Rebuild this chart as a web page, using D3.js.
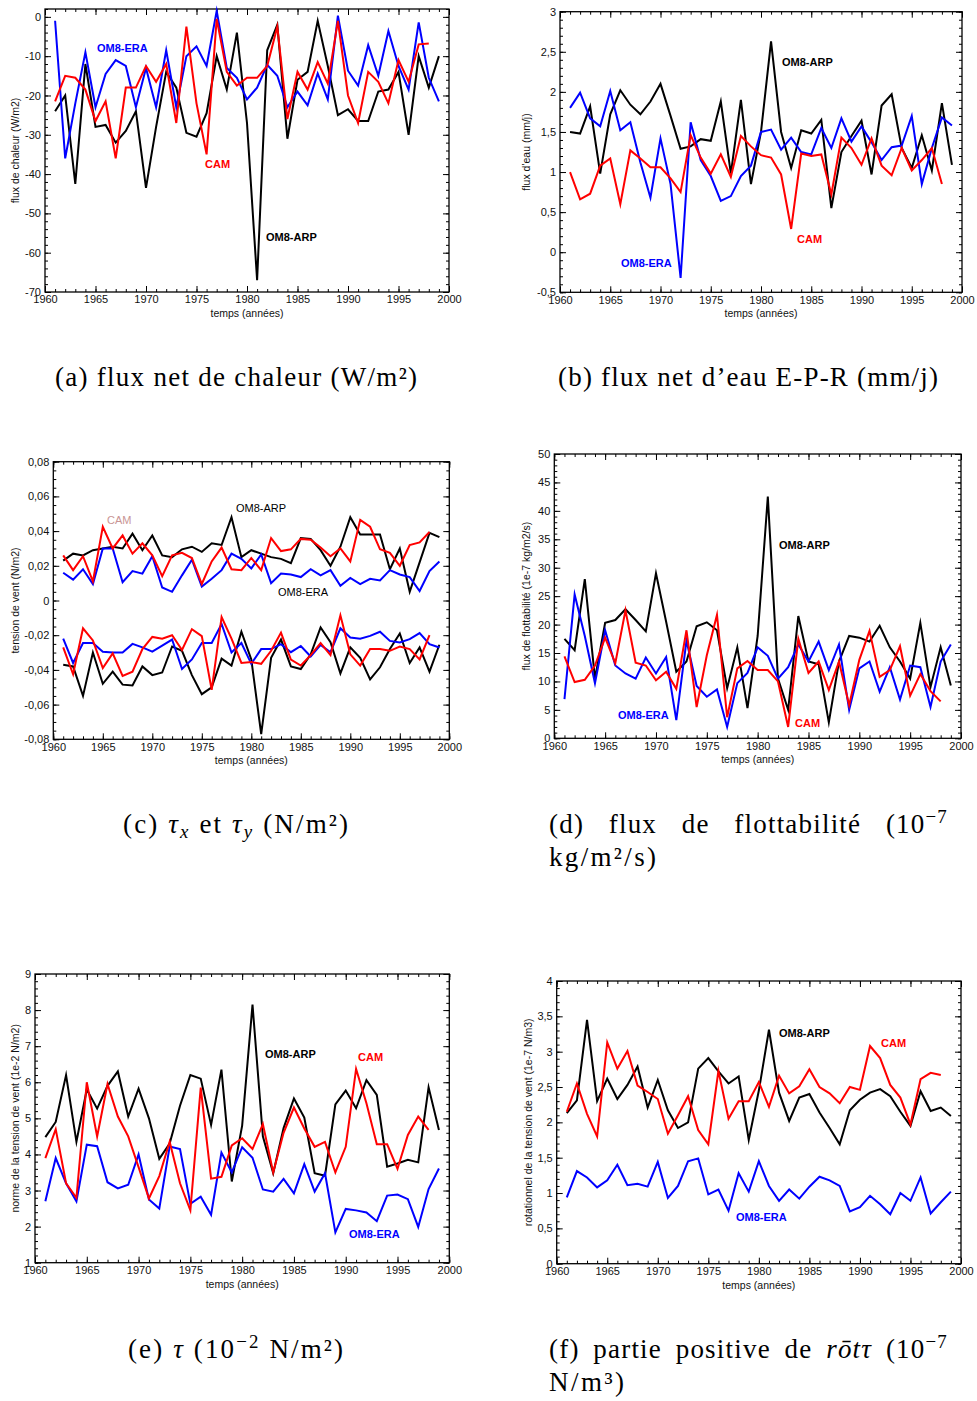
<!DOCTYPE html>
<html><head><meta charset="utf-8">
<script src="https://cdn.jsdelivr.net/npm/d3@7"></script>
<style>body{margin:0;background:#fff}</style>
</head><body><svg id="c" width="977" height="1401"></svg>
<script>
// ---------------- DATA ----------------
const years = d3.range(1961, 2000);     // 1961..1999
const yearsCAM = d3.range(1961, 1999);  // 1961..1998
const xTicks = [1960, 1965, 1970, 1975, 1980, 1985, 1990, 1995, 2000];

// (a) net heat flux (W/m2)
const a_ERA = [-1,-36,-22,-9,-23,-14.5,-11,-12.5,-23,-13, -23,-8.5,-23,-10,-7.5,-12.5,1.5,-13,-15.5,-21, -18,-12.2,-15,-23,-19,-22.5,-14.4,-21,0.3,-13.7, -17.5,-7.2,-15,-3.6,-12.5,-18.5,-1.4,-15.5,-21.5];
const a_CAM = [-21.5,-15,-15.5,-18.5,-26.5,-21.5,-36,-18,-18,-12.5, -16.5,-12,-27,-2.5,-22,-35,-0.5,-14,-17.5,-15.5, -15.5,-12.5,-2.5,-26,-14,-18.5,-11.5,-17,-1,-20, -27,-14,-16.5,-22,-11,-16.5,-7,-6.8];
const a_ARP = [-24,-20,-42.5,-12,-28,-27.5,-32,-29,-24,-43.5, -28,-14,-18,-29.5,-30.5,-24.5,-10,-18.5,-4,-27, -67,-8.5,-2,-31,-16,-14,-1,-12.5,-25,-23.5, -26.5,-26.5,-19,-18.5,-14,-30,-10,-18,-10];
const a_yTicks = [-70,-60,-50,-40,-30,-20,-10,0];

// (b) net water flux E-P-R (mm/j)
const b_ERA = [1.8,1.99,1.67,1.57,2.01,1.52,1.62,1.12,0.68,1.42, 0.85,-0.32,1.62,1.15,0.95,0.64,0.7,0.95,1.08,1.5, 1.53,1.28,1.43,1.25,1.22,1.55,1.3,1.67,1.38,1.57, 1.37,1.15,1.31,1.33,1.7,0.85,1.3,1.68,1.58];
const b_CAM = [1.0,0.66,0.73,1.08,1.17,0.6,1.27,1.17,1.06,1.06, 0.92,0.75,1.46,1.18,0.98,1.22,0.94,1.45,1.32,1.21, 1.18,0.97,0.29,1.23,1.2,1.22,0.72,1.43,1.3,1.09, 1.42,1.08,0.96,1.3,1.02,1.15,1.3,0.85];
const b_ARP = [1.5,1.48,1.82,0.98,1.72,2.02,1.84,1.72,1.88,2.1, 1.7,1.29,1.32,1.41,1.39,1.88,0.98,1.9,0.85,1.5, 2.63,1.5,1.05,1.52,1.48,1.65,0.55,1.25,1.45,1.64, 0.97,1.83,1.97,1.3,1.05,1.46,1.02,1.86,1.09];
const b_yTicks = [-0.5,0,0.5,1,1.5,2,2.5,3];

// (c) tau_x (positive) and tau_y (negative) (N/m2)
const c_ERA_x = [0.016,0.012,0.018,0.0095,0.030,0.030,0.0105,0.017,0.0155,0.0255, 0.0075,0.005,0.0145,0.0235,0.008,0.0125,0.0175,0.027,0.024,0.0185, 0.0265,0.010,0.0155,0.015,0.0135,0.018,0.0145,0.0175,0.0085,0.013, 0.0095,0.0125,0.0115,0.0175,0.015,0.0135,0.0055,0.017,0.0225];
const c_CAM_x = [0.026,0.0175,0.0255,0.011,0.0425,0.030,0.0375,0.027,0.033,0.026, 0.014,0.026,0.0275,0.0245,0.0095,0.0225,0.0305,0.018,0.0175,0.0245, 0.0175,0.036,0.0285,0.0295,0.0355,0.035,0.0305,0.0255,0.030,0.0225, 0.0465,0.0425,0.0295,0.0275,0.02,0.032,0.0335,0.0395];
const c_ARP_x = [0.023,0.027,0.026,0.029,0.030,0.031,0.030,0.0385,0.029,0.0375, 0.026,0.025,0.0295,0.031,0.028,0.033,0.032,0.048,0.025,0.029, 0.027,0.025,0.024,0.0215,0.036,0.0355,0.029,0.020,0.031,0.048, 0.038,0.038,0.038,0.018,0.030,0.005,0.022,0.039,0.0365];
const c_ERA_y = [-0.022,-0.036,-0.0245,-0.0245,-0.0295,-0.030,-0.030,-0.025,-0.027,-0.0295, -0.026,-0.0225,-0.0395,-0.034,-0.0245,-0.0245,-0.0135,-0.030,-0.0245,-0.0365, -0.028,-0.028,-0.0252,-0.0298,-0.0262,-0.0323,-0.0256,-0.0298,-0.016,-0.0213, -0.022,-0.0204,-0.018,-0.0233,-0.0242,-0.0223,-0.0188,-0.0252,-0.0271];
const c_CAM_y = [-0.027,-0.0425,-0.016,-0.023,-0.039,-0.0305,-0.0435,-0.041,-0.028,-0.021, -0.022,-0.020,-0.0285,-0.0165,-0.0205,-0.0515,-0.0095,-0.022,-0.036,-0.0355, -0.0365,-0.029,-0.0185,-0.034,-0.0375,-0.0315,-0.0245,-0.0315,-0.0085,-0.031, -0.0375,-0.028,-0.028,-0.029,-0.0265,-0.028,-0.034,-0.020];
const c_ARP_y = [-0.037,-0.038,-0.055,-0.030,-0.048,-0.041,-0.0485,-0.049,-0.038,-0.043, -0.0415,-0.0265,-0.029,-0.043,-0.054,-0.050,-0.0335,-0.0375,-0.018,-0.034, -0.077,-0.033,-0.0225,-0.038,-0.0395,-0.031,-0.0155,-0.024,-0.042,-0.027, -0.033,-0.0455,-0.0385,-0.028,-0.019,-0.036,-0.027,-0.041,-0.0255];
const c_yTicks = [-0.08,-0.06,-0.04,-0.02,0,0.02,0.04,0.06,0.08];

// (d) buoyancy flux (1e-7 kg/m2/s)
const d_ERA = [6.9,25.3,18,9.7,19,12.8,11.4,10.5,14.2,11.4, 14.3,3.2,17.2,9.2,7.3,8.6,2,9.7,11.5,16, 14.5,10.5,12.5,16.5,13.5,17,12,16.5,5,12.3, 13.5,8.2,12.5,6.8,12.8,12.5,5.5,13.5,16.5];
const d_CAM = [14.4,9.9,10.3,12.8,17.7,13.2,22.5,13.3,12.8,10.2, 11.7,8.7,19,5.5,14.6,21.7,3.7,12.3,13.6,12, 12,10,2,17.5,11.5,13.5,8.5,13.5,5.8,13.8, 18.9,10.8,12,16.2,7.5,11.3,8.3,6.5];
const d_ARP = [17.5,15.5,28,10.5,20.3,20.8,22.7,20.8,18.8,29, 20.5,11.7,13.5,19.7,20.4,19,8.8,16,5.3,18, 42.5,10.5,5,21.5,13.5,13,2.8,13.5,18,17.7, 17,19.8,16,13.5,10.5,20.3,9,16,9.3];
const d_yTicks = [0,5,10,15,20,25,30,35,40,45,50];

// (e) wind stress norm (1e-2 N/m2)
const e_ERA = [2.7,3.9,3.2,2.7,4.27,4.23,3.23,3.06,3.16,4.0, 2.75,2.5,4.22,4.15,2.63,2.83,2.33,4.05,3.5,4.2, 3.91,3.03,2.97,3.32,2.92,3.73,2.97,3.48,1.84,2.49, 2.45,2.39,2.15,2.86,2.89,2.76,1.99,3.04,3.61];
const e_CAM = [3.9,4.7,3.2,2.8,6.0,4.5,5.95,5.05,4.5,3.65, 2.78,3.4,4.35,3.2,2.45,5.85,3.33,3.38,4.25,4.45, 4.15,4.84,3.5,4.6,5.3,4.72,4.21,4.35,3.5,4.21, 6.37,5.42,4.28,4.28,3.6,4.54,5.05,4.68];
const e_ARP = [4.48,4.9,6.2,4.35,5.8,5.27,5.9,6.3,5.05,5.82, 5.0,3.88,4.3,5.35,6.2,6.1,4.82,6.35,3.25,4.8, 8.15,4.5,3.48,4.73,5.55,5.02,3.48,3.41,5.39,5.77, 5.28,6.06,5.65,3.66,3.75,3.85,3.78,5.86,4.68];
const e_yTicks = [1,2,3,4,5,6,7,8,9];

// (f) positive part of wind stress curl (1e-7 N/m3)
const f_ERA = [0.94,1.31,1.22,1.08,1.18,1.4,1.11,1.13,1.09,1.44, 0.93,1.1,1.45,1.49,0.98,1.05,0.75,1.28,1.02,1.45, 1.1,0.89,1.05,0.92,1.09,1.23,1.18,1.1,0.74,0.8, 0.96,0.84,0.7,1.0,0.89,1.22,0.71,0.87,1.02];
const f_CAM = [2.15,2.55,2.12,1.8,3.13,2.76,3.01,2.52,2.43,2.33, 1.84,2.1,2.37,1.89,1.69,2.73,2.05,2.3,2.3,2.57, 2.22,2.66,2.41,2.51,2.75,2.5,2.41,2.27,2.5,2.46, 3.08,2.91,2.53,2.35,1.97,2.61,2.7,2.67];
const f_ARP = [2.13,2.31,3.45,2.3,2.62,2.33,2.53,2.79,2.21,2.6, 2.17,1.92,2.0,2.76,2.91,2.72,2.55,2.65,1.75,2.45, 3.31,2.42,2.02,2.35,2.4,2.14,1.92,1.69,2.17,2.32, 2.42,2.47,2.37,2.15,1.95,2.44,2.16,2.21,2.09];
const f_yTicks = [0,0.5,1,1.5,2,2.5,3,3.5,4];

// ---------------- DRAWING ----------------
const SANS = "'Liberation Sans', Arial, Helvetica, sans-serif";
const SERIF = "'Liberation Serif', 'Times New Roman', serif";
const BLUE = '#0000ff', RED = '#ff0000', BLACK = '#000000';
const svg = d3.select('#c');
const fmt = v => String(Math.round(v * 10000) / 10000).replace('.', ',');

function minorRange(lo, hi, step) {
  const n = Math.round((hi - lo) / step);
  return d3.range(n + 1).map(i => lo + i * step);
}

function drawPanel(p) {
  const g = svg.append('g');
  const x = d3.scaleLinear().domain([1960, 2000]).range([p.left, p.right]);
  const y = d3.scaleLinear().domain(p.yDomain).range([p.bottom, p.top]);
  const xMin = d3.range(1960, 2001, 1);
  const yMin = minorRange(p.yDomain[0], p.yDomain[1], p.yMinorStep);
  const style = sel => {
    sel.select('.domain').remove();
    sel.selectAll('line').attr('stroke', '#000').attr('stroke-width', 1);
    sel.selectAll('text').attr('font-family', SANS).attr('font-size', 11).attr('fill', '#111');
  };
  const none = () => '';
  // bottom
  g.append('g').attr('transform', `translate(0,${p.bottom})`).call(d3.axisBottom(x).tickValues(xMin).tickSize(-3).tickFormat(none)).call(style);
  g.append('g').attr('transform', `translate(0,${p.bottom})`).call(d3.axisBottom(x).tickValues(xTicks).tickSize(-6).tickPadding(3.5).tickFormat(d3.format('d'))).call(style);
  // top
  g.append('g').attr('transform', `translate(0,${p.top})`).call(d3.axisTop(x).tickValues(xMin).tickSize(-3).tickFormat(none)).call(style);
  g.append('g').attr('transform', `translate(0,${p.top})`).call(d3.axisTop(x).tickValues(xTicks).tickSize(-6).tickFormat(none)).call(style);
  // left
  g.append('g').attr('transform', `translate(${p.left},0)`).call(d3.axisLeft(y).tickValues(yMin).tickSize(-3).tickFormat(none)).call(style);
  g.append('g').attr('transform', `translate(${p.left},0)`).call(d3.axisLeft(y).tickValues(p.yTicks).tickSize(-6).tickPadding(4).tickFormat(fmt)).call(style);
  // right
  g.append('g').attr('transform', `translate(${p.right},0)`).call(d3.axisRight(y).tickValues(yMin).tickSize(-3).tickFormat(none)).call(style);
  g.append('g').attr('transform', `translate(${p.right},0)`).call(d3.axisRight(y).tickValues(p.yTicks).tickSize(-6).tickFormat(none)).call(style);
  // frame
  g.append('rect').attr('x', p.left).attr('y', p.top).attr('width', p.right - p.left).attr('height', p.bottom - p.top)
    .attr('fill', 'none').attr('stroke', '#000').attr('stroke-width', 1.3);
  // series
  const line = d3.line().x(d => x(d[0])).y(d => y(d[1]));
  p.series.forEach(s => {
    g.append('path').datum(s.yrs.map((yr, i) => [yr, s.vals[i]]))
      .attr('d', line).attr('fill', 'none').attr('stroke', s.color)
      .attr('stroke-width', 2).attr('stroke-linejoin', 'miter').attr('stroke-miterlimit', 6);
  });
  // series labels
  p.labels.forEach(l => {
    g.append('text').attr('x', l.x).attr('y', l.y).text(l.t)
      .attr('font-family', SANS).attr('font-size', 11).attr('font-weight', l.bold === false ? 'normal' : 'bold')
      .attr('fill', l.color);
  });
  // axis titles
  const cx = (p.left + p.right) / 2, cy = (p.top + p.bottom) / 2;
  g.append('text').attr('x', cx).attr('y', p.bottom + 25).attr('text-anchor', 'middle')
    .attr('font-family', SANS).attr('font-size', 10.5).attr('fill', '#111').text('temps (années)');
  g.append('text').attr('transform', `translate(${p.yTitleX},${cy}) rotate(-90)`).attr('text-anchor', 'middle')
    .attr('dy', '0.35em').attr('font-family', SANS).attr('font-size', 10.5).attr('fill', '#111').text(p.yTitle);
}

const S = (yrs, vals, color) => ({yrs, vals, color});

drawPanel({left: 45, right: 449, top: 9, bottom: 292, yDomain: [-70, 2], yTicks: a_yTicks, yMinorStep: 2,
  yTitle: 'flux de chaleur (W/m2)', yTitleX: 15,
  series: [S(years, a_ARP, BLACK), S(years, a_ERA, BLUE), S(yearsCAM, a_CAM, RED)],
  labels: [{t: 'OM8-ERA', x: 97, y: 52, color: BLUE}, {t: 'CAM', x: 205, y: 168, color: RED}, {t: 'OM8-ARP', x: 266, y: 241, color: BLACK}]});

drawPanel({left: 560, right: 962, top: 11.7, bottom: 292.3, yDomain: [-0.5, 3], yTicks: b_yTicks, yMinorStep: 0.1,
  yTitle: "flux d'eau (mm/j)", yTitleX: 526,
  series: [S(years, b_ARP, BLACK), S(years, b_ERA, BLUE), S(yearsCAM, b_CAM, RED)],
  labels: [{t: 'OM8-ARP', x: 782, y: 66, color: BLACK}, {t: 'CAM', x: 797, y: 243, color: RED}, {t: 'OM8-ERA', x: 621, y: 267, color: BLUE}]});

drawPanel({left: 53.3, right: 449.3, top: 461.7, bottom: 739.3, yDomain: [-0.08, 0.08], yTicks: c_yTicks, yMinorStep: 0.005,
  yTitle: 'tension de vent (N/m2)', yTitleX: 15,
  series: [S(years, c_ARP_x, BLACK), S(years, c_ERA_x, BLUE), S(yearsCAM, c_CAM_x, RED),
           S(years, c_ARP_y, BLACK), S(years, c_ERA_y, BLUE), S(yearsCAM, c_CAM_y, RED)],
  labels: [{t: 'CAM', x: 107, y: 524, color: '#c99494', bold: false}, {t: 'OM8-ARP', x: 236, y: 512, color: BLACK, bold: false},
           {t: 'OM8-ERA', x: 278, y: 596, color: BLACK, bold: false}]});

drawPanel({left: 554.3, right: 961, top: 454, bottom: 738.3, yDomain: [0, 50], yTicks: d_yTicks, yMinorStep: 1,
  yTitle: 'flux de flottabilité (1e-7 kg/m2/s)', yTitleX: 526,
  series: [S(years, d_ARP, BLACK), S(years, d_ERA, BLUE), S(yearsCAM, d_CAM, RED)],
  labels: [{t: 'OM8-ARP', x: 779, y: 549, color: BLACK}, {t: 'OM8-ERA', x: 618, y: 719, color: BLUE}, {t: 'CAM', x: 795, y: 727, color: RED}]});

drawPanel({left: 35, right: 449.3, top: 974, bottom: 1262.7, yDomain: [1, 9], yTicks: e_yTicks, yMinorStep: 0.2,
  yTitle: 'norme de la tension de vent (1e-2 N/m2)', yTitleX: 15,
  series: [S(years, e_ARP, BLACK), S(years, e_ERA, BLUE), S(yearsCAM, e_CAM, RED)],
  labels: [{t: 'OM8-ARP', x: 265, y: 1058, color: BLACK}, {t: 'CAM', x: 358, y: 1061, color: RED}, {t: 'OM8-ERA', x: 349, y: 1238, color: BLUE}]});

drawPanel({left: 556.7, right: 961, top: 981, bottom: 1263.7, yDomain: [0, 4], yTicks: f_yTicks, yMinorStep: 0.1,
  yTitle: 'rotationnel de la tension de vent (1e-7 N/m3)', yTitleX: 528,
  series: [S(years, f_ARP, BLACK), S(years, f_ERA, BLUE), S(yearsCAM, f_CAM, RED)],
  labels: [{t: 'OM8-ARP', x: 779, y: 1037, color: BLACK}, {t: 'CAM', x: 881, y: 1047, color: RED}, {t: 'OM8-ERA', x: 736, y: 1221, color: BLUE}]});

// ---------------- CAPTIONS ----------------
const CAP = 27;
function capText(x, y, anchor) {
  return svg.append('text').attr('x', x).attr('y', y).attr('text-anchor', anchor)
    .attr('font-family', SERIF).attr('font-size', CAP).attr('fill', '#000');
}
function fitTo(t, x0, x1) {
  t.attr('x', x0).attr('text-anchor', 'start').attr('textLength', x1 - x0).attr('lengthAdjust', 'spacing');
}
// (a)
fitTo(capText(0, 386, 'start').text('(a) flux net de chaleur (W/m²)'), 55, 417);
// (b)
fitTo(capText(0, 386, 'start').text("(b) flux net d’eau E-P-R (mm/j)"), 558, 938);
// (c)
{
  const t = capText(0, 833, 'start');
  t.append('tspan').text('(c) ');
  t.append('tspan').attr('font-style', 'italic').text('τ');
  t.append('tspan').attr('font-style', 'italic').attr('font-size', CAP * 0.7).attr('dy', 5).text('x');
  t.append('tspan').attr('dy', -5).text(' et ');
  t.append('tspan').attr('font-style', 'italic').text('τ');
  t.append('tspan').attr('font-style', 'italic').attr('font-size', CAP * 0.7).attr('dy', 5).text('y');
  t.append('tspan').attr('dy', -5).text(' (N/m²)');
  fitTo(t, 123, 348);
}
// (e)
{
  const t = capText(0, 1358, 'start');
  t.append('tspan').text('(e) ');
  t.append('tspan').attr('font-style', 'italic').text('τ');
  t.append('tspan').text(' (10');
  t.append('tspan').attr('font-size', CAP * 0.7).attr('dy', -10).text('−2');
  t.append('tspan').attr('dy', 10).text(' N/m²)');
  fitTo(t, 128, 343);
}
// justified captions (d) and (f)
function justified(words, x0, x1, y) {
  const nodes = words.map(w => {
    const t = capText(0, y, 'start').attr('letter-spacing', 1.2);
    w(t);
    return t;
  });
  const widths = nodes.map(n => n.node().getComputedTextLength());
  const gap = (x1 - x0 - d3.sum(widths)) / (nodes.length - 1);
  let cx = x0;
  nodes.forEach((n, i) => { n.attr('x', cx); cx += widths[i] + gap; });
}
const sup = (t, s) => { t.append('tspan').attr('font-size', CAP * 0.7).attr('dy', -10).text(s); };
justified([
  t => t.text('(d)'), t => t.text('flux'), t => t.text('de'), t => t.text('flottabilité'),
  t => { t.append('tspan').text('(10'); sup(t, '−7'); }
], 549, 948, 833);
fitTo(capText(0, 866, 'start').text('kg/m²/s)'), 549, 656);
justified([
  t => t.text('(f)'), t => t.text('partie'), t => t.text('positive'), t => t.text('de'),
  t => { t.append('tspan').attr('font-style', 'italic').text('rōtτ'); },
  t => { t.append('tspan').text('(10'); sup(t, '−7'); }
], 549, 948, 1358);
fitTo(capText(0, 1391, 'start').text('N/m³)'), 549, 624);
</script>
</body></html>
